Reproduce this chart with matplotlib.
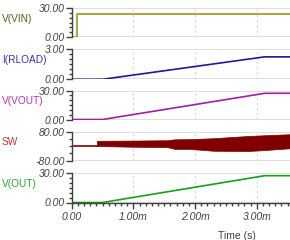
import matplotlib
matplotlib.use("Agg")
import matplotlib.pyplot as plt
from matplotlib.ticker import FixedLocator, MultipleLocator

# ---- data (time in ms) ----
t_vin = [0.0, 0.08, 0.08, 3.6]
v_vin = [0.0, 0.0, 24.0, 24.0]

t_ramp = [0.0, 0.5, 3.13, 3.6]
i_rload = [0.0, 0.0, 2.26, 2.26]
v_vout = [0.0, 0.0, 27.3, 27.3]
v_out = [0.0, 0.0, 27.0, 27.0]

t_sw_pre = [0.0, 0.41]
sw_pre = [0.0, 0.0]
t_sw = [0.41, 1.0, 1.55, 1.67, 1.92, 2.29, 2.84, 3.10, 3.6]
sw_upper = [30, 31, 33, 38, 39, 44, 56, 60, 67]
sw_lower = [1, -3, -5, -15, -15, -25, -27, -22, -10]

labels = ["V(VIN)", "I(RLOAD)", "V(VOUT)", "SW", "V(OUT)"]
label_colors = ["#5a5a20", "#3535b0", "#b035b0", "#c03535", "#30a030"]
line_colors = ["#9a9a15", "#1c1c90", "#a020a0", "#800000", "#16a016"]
y_limits = [(0, 30), (0, 3), (0, 30), (-80, 80), (0, 30)]
y_ticklabels = [("0.00", "30.00"), ("0.00", "3.00"), ("0.00", "30.00"),
                ("-80.00", "80.00"), ("0.00", "30.00")]
y_minor_step = [5, 0.5, 5, 40, 5]
x_ticks = [0, 1, 2, 3]
x_ticklabels = ["0.00", "1.00m", "2.00m", "3.00m"]
x_label = "Time (s)"

W, H = 290, 240
fig = plt.figure(figsize=(W / 100, H / 100), dpi=100)
fig.patch.set_facecolor("white")

x0_px = 71.7
px_per_ms = 61.67
panels_px = [(8, 37), (49.5, 79.3), (90.7, 119.5), (131.7, 160.7), (172.7, 202.5)]

font = "Liberation Sans"
axes = []
for k, (top, bot) in enumerate(panels_px):
    ax = fig.add_axes([x0_px / W, 1 - bot / H, 1 - x0_px / W, (bot - top) / H])
    axes.append(ax)
    xmax = (W - x0_px) / px_per_ms
    ax.set_xlim(0, xmax)
    ax.set_ylim(*y_limits[k])
    for s in ["top", "right", "bottom"]:
        ax.spines[s].set_visible(False)
    ax.spines["left"].set_color("#404040")
    ax.spines["left"].set_linewidth(1.0)
    lo, hi = y_limits[k]
    for yy in (lo, hi):
        ax.axhline(yy, color="#d8d8d8", lw=1.2, zorder=0)
    for xx in x_ticks[1:]:
        ax.axvline(xx, color="#dcdcdc", lw=0.9, ls=(0, (2, 2)), zorder=0)
    ax.yaxis.set_major_locator(FixedLocator([lo, hi]))
    ax.set_yticklabels(y_ticklabels[k], fontsize=7.5, style="italic",
                       family=font, color="#404040")
    ax.yaxis.set_minor_locator(MultipleLocator(y_minor_step[k]))
    ax.tick_params(axis="y", which="major", length=4, width=1, color="#404040", pad=1)
    ax.tick_params(axis="y", which="minor", length=2, width=1, color="#404040")
    fig.text(2 / W, 1 - ((top + bot) / 2 - 4) / H, labels[k], color=label_colors[k],
             fontsize=7.3, family=font, ha="left", va="center")
    if k < 4:
        ax.set_xticks([])
        ax.xaxis.set_minor_locator(FixedLocator([]))
    ax.set_facecolor("none")

axes[0].plot(t_vin, v_vin, color=line_colors[0], lw=1.2)
axes[1].plot(t_ramp, i_rload, color=line_colors[1], lw=1.2)
axes[2].plot(t_ramp, v_vout, color=line_colors[2], lw=1.2)
axes[3].plot(t_sw_pre, sw_pre, color=line_colors[3], lw=1.2)
axes[3].fill_between(t_sw, sw_lower, sw_upper, color=line_colors[3], lw=0.5,
                     edgecolor=line_colors[3])
axes[4].plot(t_ramp, v_out, color=line_colors[4], lw=1.2)

ax = axes[4]
ax.spines["bottom"].set_visible(True)
ax.spines["bottom"].set_color("#404040")
ax.spines["bottom"].set_linewidth(1.0)
ax.set_xticks(x_ticks)
ax.set_xticklabels(x_ticklabels, fontsize=7.5, style="italic", family=font, color="#404040")
ax.xaxis.set_minor_locator(MultipleLocator(0.1))
ax.tick_params(axis="x", which="major", length=4, width=1, color="#404040", pad=2.5)
ax.tick_params(axis="x", which="minor", length=2, width=1, color="#404040")
ax.set_xlabel(x_label, fontsize=7.5, family=font, color="#404040")
ax.xaxis.set_label_coords((237 - x0_px) / (W - x0_px), -0.95)

fig.savefig("out.png", dpi=100)
